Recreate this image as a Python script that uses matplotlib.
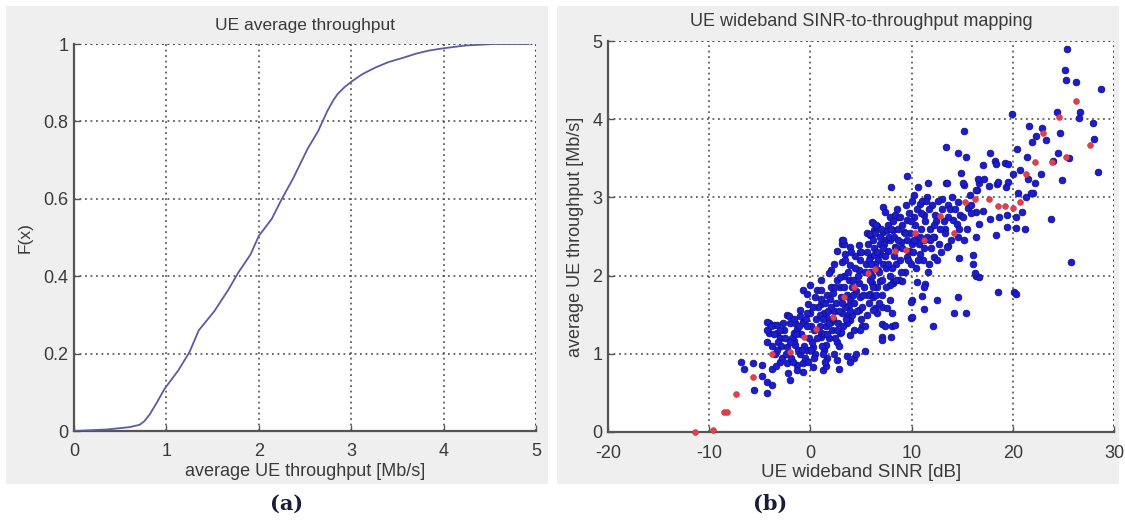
import matplotlib
matplotlib.use("Agg")
import matplotlib.pyplot as plt
from matplotlib.patches import Rectangle

plt.rcParams['font.family'] = ['Liberation Sans', 'DejaVu Sans']
plt.rcParams['axes.unicode_minus'] = False

# ---- (a) empirical CDF of average UE throughput ----
cdf_x = [0.0, 0.36, 0.60, 0.71, 0.76, 0.82, 0.90, 0.98, 1.13, 1.25, 1.35, 1.52, 1.67,
         1.78, 1.91, 2.00, 2.14, 2.25, 2.37, 2.53, 2.64, 2.74, 2.80, 2.85, 2.93, 3.01,
         3.12, 3.26, 3.40, 3.57, 3.70, 3.84, 4.00, 4.23, 4.54, 4.92]
cdf_y = [0.0, 0.004, 0.010, 0.016, 0.025, 0.043, 0.075, 0.109, 0.157, 0.204, 0.26,
         0.31, 0.365, 0.41, 0.456, 0.504, 0.548, 0.60, 0.652, 0.73, 0.774, 0.826,
         0.852, 0.87, 0.889, 0.904, 0.922, 0.939, 0.953, 0.965, 0.975, 0.983, 0.989,
         0.996, 1.0, 1.0]

# ---- (b) per-UE wideband SINR [dB] vs average throughput [Mb/s] ----
ue_sinr = [
    25.4, 25.2, 25.3, 26.2, 28.7, 26.6, 26.5, 24.4, 19.9, 27.9, 15.2, 21.6, 22.9, 22.3,
    21.9, 23.3, 24.7, 28.0, 20.4, 14.6, 15.4, 17.7, 21.4, 13.4, 24.0, 25.6, 24.5, 28.4,
    24.9, 22.8, 18.2, 18.3, 19.2, 19.5, 17.1, 20.0, 20.7, 14.9, 13.4, 15.2, 11.6, 9.5,
    8.0, 10.6, 16.7, 16.5, 18.4, 19.3, 22.0, 21.3, 23.8, 22.2, 21.5, 18.5, 19.5, 16.6,
    17.6, 20.5, 21.8, 16.4, 17.1, 17.7, 18.6, 19.4, 20.3, 20.9, 16.7, 18.3, 19.4, 20.3,
    21.2, 16.4, 25.8, 16.4, 16.7, 18.5, 20.1, 20.3, 16.1,
    13.6, 14.7, 16.1, 16.3, 10.5, 11.3, 8.2, 9.1, 10.0, 11.0, 12.5, 14.6, 11.2, 14.2,
    15.4, 9.9, 12.1, 8.1, 8.1, 8.0, 7.1, 7.1, 7.1, 7.1, 7.1, 9.7, 10.5,
    13.5, 15.1, 17.2, 16.4, 15.8, 14.6, 14.0, 13.0, 11.5, 10.2, 10.8, 12.0, 13.6, 7.2,
    7.4, 6.1, 6.6, 7.9, 8.7, 9.5, 10.2, 11.2, 12.3, 14.1, 14.8, 15.6, 15.9, 14.5, 13.3,
    9.2, 8.2, 7.2, 6.3, 7.9, 9.0, 10.0, 11.2, 12.2, 13.5, 14.6, 6.9, 7.2, 6.7, 8.5, 9.5,
    10.8, 12.2, 11.7, 6.1, 6.6, 8.2, 11.2, 6.2, 9.9, 6.4, 6.6, 10.0,
    8.4, 6.2, 6.6, 5.6, 5.9, 7.6, 3.1, 3.1, 3.9, 4.8, 5.7, 6.9, 7.4, 2.6, 3.4, 4.9, 5.9,
    6.3, 7.7, 8.4, 2.0, 3.1, 3.9, 4.8, 4.1, 5.9, 6.9, 7.9, 2.6, 2.0, 1.0, 0.0, -0.7, 0.7,
    1.6, 3.0, 4.9, 5.9, 7.9, -0.2, 1.0, 3.8, 4.8, 6.2, 7.6, -1.0, 0.0, 1.3, 3.1, -2.3,
    -3.6, -2.0, -0.7, 2.0, 3.9, 5.1, 5.4, 7.4, 8.4, -3.3, -1.6, 1.0, 2.9, 3.9,
    -2.1, -4.1, -3.3, -4.1, -2.6, -4.3, -3.0, -2.3, -1.5, -1.0, -0.3, 0.5, 1.3, 1.6,
    -3.0, -2.3, -1.3, -0.7, 0.3, 1.2, -1.3, -0.7, -6.9, -6.6, -5.7, -4.8, -4.8, -4.3,
    -2.0, -3.8, -5.6, -4.3, -4.3, -4.3, -3.8, -1.6, -1.3, -0.7, -0.3, 1.6, 1.0, 0.3,
    1.5, 2.6, 3.0, 3.6, 4.3, 4.9, 2.6, 3.6, 4.3, 5.4, 1.5, 2.8, 3.3, 3.2, 5.9, -0.3,
    1.0, 1.8, 2.3, 4.5, 3.9,
    0.2, 0.4, 0.6, 0.8, 1.1, 1.3, 1.5, 1.7, 1.9, 0.1, 0.9, 1.4, 1.8, 0.5, 1.2,
    2.1, 2.3, 2.5, 2.7, 2.9, 3.2, 3.4, 3.6, 3.8, 2.2, 2.8, 3.3, 3.7, 2.4, 3.9,
    4.1, 4.3, 4.5, 4.7, 4.9, 5.1, 5.3, 5.5, 5.7, 5.9, 4.4, 5.0, 5.6, 4.2, 5.8,
    6.1, 6.3, 6.5, 6.7, 6.9, 7.1, 7.3, 7.5, 7.7, 7.9, 6.2, 6.8, 7.4, 7.8, 6.4,
    8.1, 8.3, 8.5, 8.7, 8.9, 9.1, 9.3, 9.5, 9.7, 9.9, 8.2, 8.8, 9.4, 9.8, 8.6,
    10.1, 10.3, 10.5, 10.7, 10.9, 11.1, 11.3, 11.5, 11.7, 11.9, 10.4, 11.0, 11.6, 10.8, 11.8,
    12.1, 12.4, 12.7, 13.0, 13.3, 13.6, 13.9, 12.6, 13.8, 12.9,
    14.3, 14.7, 15.1, 15.5, 15.9, 15.2,
    -1.8, -1.5, -1.2, -0.9, -0.6, -0.3, -1.9, -0.5, -1.0, -0.1,
    -3.8, -3.5, -3.2, -2.8, -2.5, -2.2, -3.6, -2.7,
    -3.9, -3.4, -3.0, -2.4, -2.0, -1.7, -1.4, -1.1, -0.8, -0.4, -0.2, -2.9, -1.6, -3.3,
    0.1, 0.3, 0.7, 0.9, 1.0, 1.2, 1.6, 1.8, 2.0, 2.2, 2.4, 2.6, 2.8, 2.9, 0.4, 1.4, 2.3,
    3.1, 3.3, 3.5, 3.7, 3.9, 4.2, 4.4, 4.6, 4.8, 5.0, 5.2, 5.4, 5.6, 5.8, 3.4, 4.0,
    6.0, 6.2, 6.4, 6.6, 6.8, 7.0, 7.2, 7.5, 7.7, 8.0, 8.3, 8.5, 8.7, 8.9, 6.5,
    9.1, 9.3, 9.6, 9.9, 10.2, 10.6, 10.9, 11.2, 11.4, 11.8, 12.2, 12.5, 12.8, 13.2, 10.0, 9.0,
]
ue_thr = [
    4.90, 4.63, 4.50, 4.47, 4.38, 4.09, 4.02, 4.09, 4.07, 3.95, 3.85, 3.91, 3.89, 3.79,
    3.71, 3.73, 3.82, 3.75, 3.62, 3.57, 3.52, 3.57, 3.52, 3.65, 3.47, 3.50, 3.57, 3.32,
    3.22, 3.30, 3.47, 3.43, 3.44, 3.43, 3.42, 3.30, 3.35, 3.31, 3.18, 3.16, 3.18, 3.28,
    3.13, 3.13, 3.18, 3.10, 3.17, 3.13, 3.05, 3.00, 2.73, 3.18, 3.23, 3.20, 3.20, 3.23,
    3.15, 3.05, 3.05, 2.81, 2.83, 2.73, 2.75, 2.77, 2.75, 2.81, 2.66, 2.52, 2.62, 2.61,
    2.59, 2.49, 2.17, 2.00, 1.98, 1.79, 1.79, 1.76, 2.26,
    2.38, 2.22, 2.15, 2.03, 1.92, 1.89, 1.92, 1.93, 1.69, 1.74, 1.69, 1.72, 1.57, 1.52,
    1.52, 1.46, 1.36, 1.52, 1.36, 1.22, 1.22, 1.18, 1.75, 1.60, 1.38, 2.32, 2.50,
    3.19, 3.18, 3.24, 3.09, 3.03, 2.94, 3.00, 2.98, 3.00, 3.03, 2.92, 2.90, 2.90, 2.88,
    2.81, 2.69, 2.64, 2.75, 2.75, 2.71, 2.75, 2.77, 2.77, 2.71, 2.77, 2.86, 2.80, 2.66, 2.60,
    2.56, 2.58, 2.56, 2.58, 2.45, 2.43, 2.41, 2.45, 2.49, 2.37, 2.49, 2.28, 2.15, 2.07, 2.15, 2.24,
    2.28, 2.24, 2.15, 1.90, 1.85, 1.90, 1.86, 1.73, 1.66, 1.58, 1.52, 1.47,
    2.77, 2.67, 2.62, 2.55, 2.52, 2.58, 2.45, 2.41, 2.37, 2.39, 2.41, 2.41, 2.45, 2.32, 2.28, 2.30, 2.24,
    2.26, 2.32, 2.37, 2.07, 2.17, 2.13, 2.07, 1.86, 1.94, 1.93, 1.88, 1.94, 1.86, 1.94, 1.88, 1.81, 1.81,
    1.75, 1.73, 1.73, 1.77, 1.69, 1.64, 1.64, 1.62, 1.56, 1.56, 1.58, 1.56, 1.52, 1.52, 1.52, 1.49,
    1.37, 1.39, 1.41, 1.41, 1.43, 1.35, 1.35, 1.35, 1.37, 1.26, 1.26, 1.26, 1.26, 1.24,
    1.48, 1.40, 1.37, 1.26, 1.30, 1.15, 1.20, 1.09, 1.11, 1.00, 1.05, 1.00, 1.05, 0.95,
    0.90, 0.88, 0.86, 0.88, 0.83, 0.79, 0.79, 0.77, 0.90, 0.81, 0.88, 0.86, 0.71, 0.64,
    0.66, 0.60, 0.54, 0.50, 1.41, 1.31, 1.10, 1.17, 1.32, 1.39, 1.52, 1.46, 1.22, 1.09,
    1.11, 1.15, 1.28, 1.39, 1.30, 1.31, 0.92, 0.97, 0.95, 1.03, 0.84, 0.81, 2.41, 2.45, 2.53, 1.77,
    1.81, 2.03, 2.15, 1.00, 0.89,
    1.15, 1.30, 1.45, 1.60, 1.10, 1.25, 1.35, 1.55, 1.70, 1.35, 1.50, 1.65, 1.20, 1.72, 1.00,
    1.30, 1.55, 1.65, 1.40, 1.85, 1.35, 1.60, 1.75, 1.95, 1.78, 1.10, 2.00, 1.50, 1.20, 1.70,
    1.50, 1.65, 1.80, 2.00, 2.20, 1.60, 1.85, 2.15, 1.75, 2.05, 2.25, 1.45, 2.30, 1.95, 1.65,
    2.00, 2.35, 1.75, 2.20, 2.50, 1.95, 2.40, 2.10, 2.65, 2.00, 2.45, 1.65, 2.25, 2.50, 2.15,
    2.10, 2.50, 2.35, 2.60, 2.20, 2.65, 2.05, 2.45, 2.80, 2.15, 2.70, 1.95, 2.90, 2.55, 2.85,
    2.30, 2.65, 2.85, 2.40, 2.60, 2.20, 2.70, 2.50, 2.85, 2.35, 2.10, 2.95, 2.05, 2.50, 2.60,
    2.50, 2.70, 2.40, 2.85, 2.55, 2.75, 2.45, 2.95, 2.85, 2.30,
    2.85, 2.60, 2.75, 2.60, 2.90, 2.45,
    1.20, 1.40, 1.05, 1.25, 1.10, 1.35, 0.95, 0.95, 1.48, 1.20,
    0.80, 1.00, 1.15, 0.95, 1.20, 0.75, 1.25, 1.40,
    1.35, 0.85, 1.30, 1.00, 1.15, 0.90, 1.25, 1.35, 1.05, 1.45, 0.90, 1.10, 1.45, 1.05,
    1.05, 1.60, 1.20, 1.35, 1.70, 1.45, 1.25, 1.40, 1.60, 1.45, 1.85, 1.30, 1.55, 1.98, 0.95, 0.90, 1.00,
    1.65, 1.85, 1.45, 2.05, 1.55, 1.75, 2.10, 1.55, 1.90, 2.30, 1.75, 2.05, 1.50, 2.20, 2.20, 2.30,
    2.15, 1.85, 2.55, 2.30, 2.05, 2.60, 2.35, 1.85, 2.15, 2.60, 2.25, 1.95, 2.45, 2.75, 2.65,
    2.35, 2.55, 2.20, 2.70, 2.45, 2.20, 2.80, 2.35, 2.95, 2.45, 2.65, 2.20, 2.60, 2.70, 2.95, 2.05,
]

# mapped (fitted) throughput points
map_sinr = [-11.4, -9.6, -8.5, -8.2, -7.4, -5.7, -3.8, -2.0, -0.6, 0.6, 2.2, 3.3,
            4.3, 5.7, 6.4, 8.4, 9.4, 10.3, 11.2, 12.8, 14.2, 15.3, 16.3, 17.6, 18.5,
            19.2, 20.0, 20.7, 21.3, 22.2, 23.0, 23.9, 24.6, 25.3, 26.2, 27.6]
map_thr = [0.0, 0.02, 0.25, 0.25, 0.48, 0.70, 1.00, 1.02, 1.22, 1.32, 1.47, 1.73,
           1.86, 2.03, 2.08, 2.31, 2.33, 2.55, 2.46, 2.76, 2.55, 2.94, 2.98, 2.98, 2.89,
           2.89, 2.87, 2.94, 3.30, 3.45, 3.82, 3.45, 4.03, 3.52, 4.23, 3.67]

W, H = 1125, 525
fig = plt.figure(figsize=(W / 100, H / 100), dpi=100)
fig.patch.set_facecolor('white')

panel_gray = '#efefef'
fig.add_artist(Rectangle((6 / W, 1 - 484 / H), 542 / W, 478 / H,
                         transform=fig.transFigure, facecolor=panel_gray,
                         edgecolor='none', zorder=0))
fig.add_artist(Rectangle((557 / W, 1 - 484 / H), 562 / W, 478 / H,
                         transform=fig.transFigure, facecolor=panel_gray,
                         edgecolor='none', zorder=0))

text_col = '#3a3a3a'
grid_kw = dict(color='#444444', linestyle=(0, (1.2, 2.4)), linewidth=1.1)


def style_axes(ax):
    ax.set_facecolor('white')
    for side in ('top', 'right'):
        ax.spines[side].set_visible(False)
    for side in ('left', 'bottom'):
        ax.spines[side].set_color('#555555')
        ax.spines[side].set_linewidth(1.6)
    ax.tick_params(direction='in', length=4, width=1, colors='#555555',
                   labelcolor=text_col, labelsize=13)
    ax.tick_params(axis='x', pad=9)
    ax.tick_params(axis='y', pad=4)
    ax.grid(True, **grid_kw)
    ax.set_axisbelow(True)


# left panel
ax1 = fig.add_axes([74 / W, 1 - 431 / H, 462 / W, 387 / H])
style_axes(ax1)
ax1.plot(cdf_x, cdf_y, color='#5b5b9e', linewidth=1.3, zorder=3)
ax1.set_xlim(0, 5)
ax1.set_ylim(0, 1)
ax1.set_xticks([0, 1, 2, 3, 4, 5])
ax1.set_yticks([0, 0.2, 0.4, 0.6, 0.8, 1])
ax1.set_yticklabels(['0', '0.2', '0.4', '0.6', '0.8', '1'])
ax1.axhline(1.0, zorder=1, **grid_kw)
ax1.axvline(5, zorder=1, **grid_kw)
ax1.set_title('UE average throughput', fontsize=12.5, color=text_col, pad=10)
ax1.set_xlabel('average UE throughput [Mb/s]', fontsize=13, color=text_col, labelpad=2)
ax1.set_ylabel('F(x)', fontsize=12.5, color=text_col, labelpad=8)

# right panel
ax2 = fig.add_axes([608 / W, 1 - 432 / H, 506 / W, 391 / H])
style_axes(ax2)
ax2.plot(ue_sinr, ue_thr, linestyle='none', marker='o', markersize=4.8,
         markerfacecolor='#1c1cd0', markeredgecolor='#101094',
         markeredgewidth=0.6, zorder=3, clip_on=False)
ax2.plot(map_sinr, map_thr, linestyle='none', marker='o', markersize=4.2,
         markerfacecolor='#e0404a', markeredgecolor='#c8303c',
         markeredgewidth=0.4, zorder=4, clip_on=False)
ax2.set_xlim(-20, 30)
ax2.set_ylim(0, 5)
ax2.set_xticks([-20, -10, 0, 10, 20, 30])
ax2.set_yticks([0, 1, 2, 3, 4, 5])
ax2.axhline(5, zorder=1, **grid_kw)
ax2.axvline(30, zorder=1, **grid_kw)
ax2.set_title('UE wideband SINR-to-throughput mapping', fontsize=13,
              color=text_col, pad=11)
ax2.set_xlabel('UE wideband SINR [dB]', fontsize=13.5, color=text_col, labelpad=2)
ax2.set_ylabel('average UE throughput [Mb/s]', fontsize=13, color=text_col, labelpad=6)

# panel captions
fig.text(287 / W, 1 - 504 / H, '(a)', ha='center', va='center', fontsize=15,
         fontweight='bold', family=['DejaVu Serif'], color='#1a1a3a')
fig.text(770 / W, 1 - 504 / H, '(b)', ha='center', va='center', fontsize=15,
         fontweight='bold', family=['DejaVu Serif'], color='#1a1a3a')

fig.savefig('out.png', dpi=100, facecolor='white')
